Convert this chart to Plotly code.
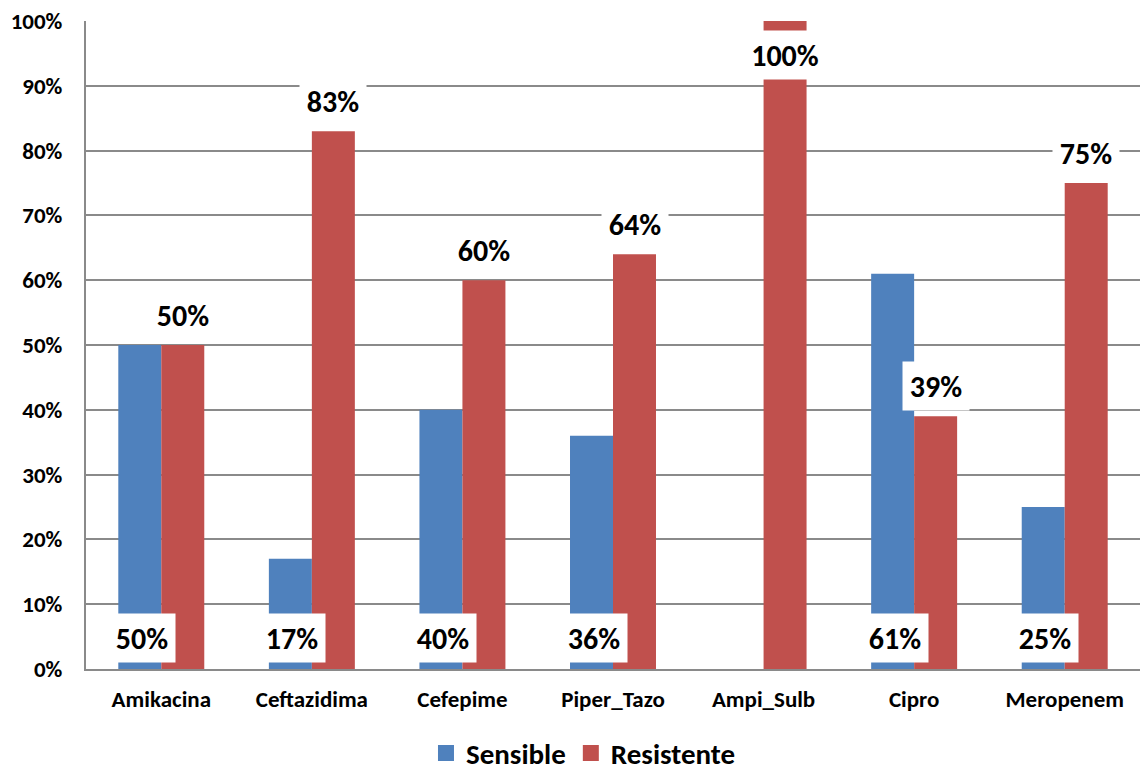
import plotly.graph_objects as go

categories = ["Amikacina", "Ceftazidima", "Cefepime", "Piper_Tazo", "Ampi_Sulb", "Cipro", "Meropenem"]
sensible = [50, 17, 40, 36, 0, 61, 25]
resistente = [50, 83, 60, 64, 100, 39, 75]
y_ticks = [0, 10, 20, 30, 40, 50, 60, 70, 80, 90, 100]

BLUE = "#4F81BD"
RED = "#C0504D"
GRID = "#8A8A8A"
FONT = "Carlito, Liberation Sans, Arial, sans-serif"

fig = go.Figure()
fig.add_trace(go.Bar(x=categories, y=sensible, name="Sensible", marker=dict(color=BLUE, line=dict(width=0)), showlegend=False))
fig.add_trace(go.Bar(x=categories, y=resistente, name="Resistente", marker=dict(color=RED, line=dict(width=0)), showlegend=False))

# legend entries with larger square symbols
fig.add_trace(go.Scatter(x=[None], y=[None], mode="markers", name="Sensible",
                         marker=dict(symbol="square", size=18, color=BLUE)))
fig.add_trace(go.Scatter(x=[None], y=[None], mode="markers", name="Resistente",
                         marker=dict(symbol="square", size=18, color=RED)))

half = 21.5  # half of bar width in px for group offsets
lab_font = dict(family=FONT, size=30, color="black", weight="bold")
for c, s, r in zip(categories, sensible, resistente):
    if s > 0:
        fig.add_annotation(x=c, y=4.8, xref="x", yref="y", text=f"{s}%", showarrow=False,
                           xshift=-half + 2, yanchor="middle", bgcolor="white",
                           width=58, height=40, borderpad=4, font=lab_font)
    ly = min(r + 4.65, 94.75)
    fig.add_annotation(x=c, y=ly, xref="x", yref="y", text=f"{r}%", showarrow=False,
                       xshift=half, yanchor="middle", bgcolor="white",
                       width=74 if r >= 100 else 58, height=40, borderpad=4, font=lab_font)

fig.update_layout(
    width=1140, height=771,
    margin=dict(l=86, r=0, t=21, b=102, autoexpand=False),
    paper_bgcolor="white", plot_bgcolor="white",
    barmode="group", bargap=0.429, bargroupgap=0,
    font=dict(family=FONT, color="black"),
    legend=dict(orientation="h", x=0.472, xanchor="center", y=-0.13, yanchor="middle",
                font=dict(family=FONT, size=29, color="black", weight="bold"),
                itemclick=False),
    xaxis=dict(showline=True, linecolor=GRID, linewidth=2, showgrid=False,
               tickfont=dict(family=FONT, size=23, color="black", weight="bold"),
               ticks="", ticklabelstandoff=8),
    yaxis=dict(range=[0, 100], tickvals=y_ticks, ticktext=[f"{v}%" for v in y_ticks],
               showline=True, linecolor=GRID, linewidth=2,
               showgrid=True, gridcolor=GRID, gridwidth=1.5, zeroline=False,
               tickfont=dict(family=FONT, size=23, color="black", weight="bold"),
               ticks="", ticklabelstandoff=17),
)

fig.write_html("out.html")
